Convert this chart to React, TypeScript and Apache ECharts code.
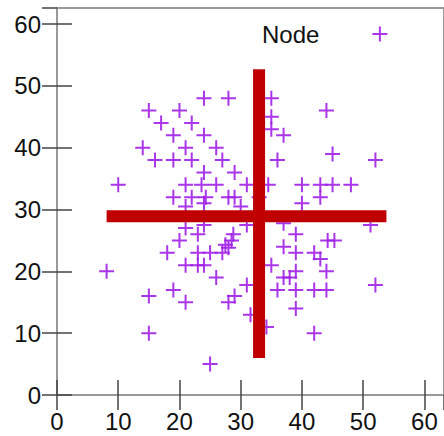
import React, { useEffect, useRef } from "react";
import * as echarts from "echarts";

// Scatter points ("Node")
const nodeX = [
  24, 28, 35,
  15, 20, 44,
  17, 22, 35,
  19, 24, 35, 37,
  14, 21, 26,
  16, 19, 22, 27, 36, 52, 45,
  24, 29,
  10, 21, 23.6, 26, 31, 34.5, 40, 43, 45, 48,
  19, 22, 24.3, 28, 29, 33, 43,
  21, 24, 30, 40,
  21, 24, 31, 37, 51.2,
  23, 28.8, 39,
  20, 28.5, 44.2, 45.3,
  27.5, 37,
  18, 23, 25, 27, 28, 39, 42, 43,
  21, 23, 24, 35,
  8.1, 39, 44,
  26, 37, 38,
  31, 52,
  19, 36, 39, 42, 44,
  15, 29,
  21, 28,
  39,
  31.6, 34.2,
  15, 42,
  25
];
const nodeY = [
  48, 48, 48,
  46, 46, 46,
  44, 44, 45,
  42, 42, 43, 42,
  40, 40, 40,
  38, 38, 38, 38, 38, 38, 39,
  36, 36,
  34, 34, 34, 34, 34, 34, 34, 34, 34, 34,
  32, 32, 32, 32, 32, 32, 32,
  30.5, 31, 30.5, 31,
  27, 27.5, 27.5, 27.8, 27.5,
  26, 26, 26,
  25, 25, 25, 25,
  24.3, 24,
  23, 23, 23, 23, 23.8, 23, 23, 22,
  21, 21, 21, 21,
  20, 20, 20,
  19, 19, 19,
  17.8, 17.8,
  17, 17, 17, 17, 17,
  16, 16,
  15, 15,
  14,
  13, 11,
  10, 10,
  5
];

// Red cross (centre and extents)
const crossCenterX = 33;
const crossCenterY = 28.9;
const crossXExtent = [8.1, 53.8];
const crossYExtent = [6, 52.7];

const seriesName = "Node";
const xMin = 0;
const xMax = 63.2;
const yMin = 0;
const yMax = 62.6;
const tickStep = 10;

const plusPath = "path://M0,6.5L15,6.5L15,8.5L0,8.5Z M6.5,0L8.5,0L8.5,15L6.5,15Z";

export default function App() {
  const ref = useRef<HTMLDivElement>(null);
  useEffect(() => {
    if (!ref.current) return;
    const chart = echarts.init(ref.current, undefined, { renderer: "svg" });
    const font = "Liberation Sans, Arial, sans-serif";
    const tick = { inside: true, length: 15, lineStyle: { color: "#444", width: 1.5 } };
    const label = { fontSize: 24, color: "#111", fontFamily: font, showMaxLabel: false };
    const points = nodeX.map((x, i) => [x, nodeY[i]]);
    chart.setOption({
      animation: false,
      backgroundColor: "#fff",
      grid: {
        left: 57, right: -3, top: 8, bottom: 41,
        show: true, borderColor: "#999", borderWidth: 2, backgroundColor: "transparent",
      },
      legend: {
        data: [seriesName],
        left: 262,
        top: 22,
        align: "right",
        padding: 0,
        itemWidth: 15,
        itemHeight: 15,
        icon: plusPath,
        textStyle: { fontSize: 24, color: "#111", fontFamily: font, padding: [0, 48, 0, 0] },
      },
      xAxis: [
        {
          type: "value", min: xMin, max: xMax, interval: tickStep, position: "bottom",
          axisLine: { show: false }, axisTick: tick, splitLine: { show: false },
          axisLabel: { ...label, margin: 14 },
        },
        {
          type: "value", min: xMin, max: xMax, interval: tickStep, position: "top",
          axisLine: { show: false }, axisTick: tick, splitLine: { show: false },
          axisLabel: { show: false },
        },
      ],
      yAxis: [
        {
          type: "value", min: yMin, max: yMax, interval: tickStep, position: "left",
          axisLine: { show: false }, axisTick: tick, splitLine: { show: false },
          axisLabel: { ...label, margin: 16 },
        },
        {
          type: "value", min: yMin, max: yMax, interval: tickStep, position: "right",
          axisLine: { show: false }, axisTick: tick, splitLine: { show: false },
          axisLabel: { show: false },
        },
      ],
      series: [
        {
          name: seriesName,
          type: "scatter",
          data: points,
          symbol: plusPath,
          symbolSize: 15,
          itemStyle: { color: "#a020e6", opacity: 0.9 },
          z: 2,
        },
        {
          type: "line",
          data: [[crossXExtent[0], crossCenterY], [crossXExtent[1], crossCenterY]],
          symbol: "none",
          lineStyle: { color: "#c00000", width: 12, cap: "butt" },
          z: 3,
        },
        {
          type: "line",
          data: [[crossCenterX, crossYExtent[0]], [crossCenterX, crossYExtent[1]]],
          symbol: "none",
          lineStyle: { color: "#c00000", width: 12, cap: "butt" },
          z: 3,
        },
      ],
    });
    return () => chart.dispose();
  }, []);
  return (
    <div
      ref={ref}
      style={{ position: "fixed", left: 0, top: 0, width: 444, height: 436 }}
    />
  );
}
